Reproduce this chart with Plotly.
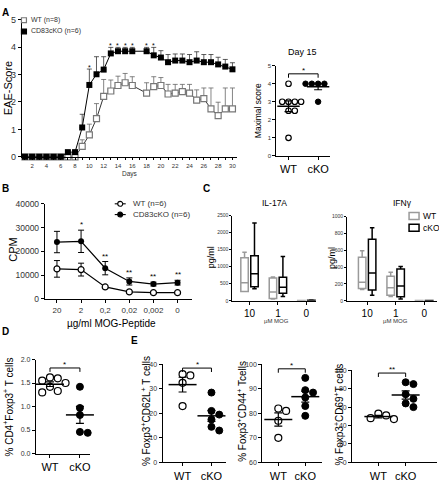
import numpy as np
import plotly.graph_objects as go

W, H = 439, 484
FONT = "Arial, Liberation Sans, sans-serif"

# ---------------- DATA ----------------
# Panel A: EAE score over time (no day 17 measurement)
days = list(range(1, 17)) + list(range(18, 31))
wt_score = [0, 0, 0, 0, 0, 0, 0, 0, 0.38, 0.80, 1.39, 2.20, 2.40, 2.60, 2.70, 2.60,
            2.32, 2.56, 2.60, 2.29, 2.32, 2.38, 2.32, 2.07, 2.12, 1.75, 1.50, 1.75, 1.75]
wt_sem = [0, 0, 0, 0, 0, 0, 0, 0, 0.24, 0.39, 0.55, 0.62, 0.40, 0.34, 0.34, 0.32,
          0.38, 0.36, 0.29, 0.35, 0.32, 0.26, 0.32, 0.37, 0.39, 0.76, 0.49, 0.76, 0.76]
cko_score = [0, 0, 0, 0, 0, 0, 0.17, 0.17, 1.07, 2.62, 3.01, 3.18, 3.77, 3.85, 3.85, 3.85,
             3.85, 3.70, 3.62, 3.45, 3.51, 3.51, 3.45, 3.51, 3.45, 3.45, 3.37, 3.29, 3.19]
cko_sem = [0, 0, 0, 0, 0, 0, 0.06, 0.06, 0.48, 0.58, 0.64, 0.47, 0.22, 0.14, 0.14, 0.14,
           0.14, 0.29, 0.25, 0.28, 0.24, 0.24, 0.28, 0.32, 0.28, 0.28, 0.26, 0.26, 0.24]
sig_days = [10, 13, 14, 15, 16, 18, 19]
day_labels = list(range(2, 31, 2))

# Panel A inset: maximal score day 15
max_wt = [4, 3, 3, 3, 3, 2.5, 2.5, 1]
max_cko = [4, 4, 4, 4, 4, 3]

# Panel B: proliferation
doses = ["20", "2", "0,2", "0,02", "0,002", "0"]
wt_cpm = [12600, 12300, 5000, 2900, 2600, 2600]
wt_cpm_sem = [3500, 2700, 700, 300, 200, 200]
cko_cpm = [23900, 24200, 12900, 7300, 6200, 6800]
cko_cpm_sem = [4500, 4700, 2800, 1500, 800, 1000]
cpm_sig = ["", "*", "**", "**", "**", "**"]

# Panel C: cytokines (box stats)
mog = ["10", "1", "0"]
il17_wt_low = [270, 50, 0]
il17_wt_q1 = [275, 70, 2]
il17_wt_med = [530, 260, 5]
il17_wt_q3 = [1260, 670, 8]
il17_wt_high = [1420, 700, 10]
il17_cko_low = [350, 125, 0]
il17_cko_q1 = [410, 220, 5]
il17_cko_med = [790, 400, 10]
il17_cko_q3 = [1320, 690, 15]
il17_cko_high = [2280, 1300, 20]

ifn_wt_low = [135, 50, 0]
ifn_wt_q1 = [145, 66, 1]
ifn_wt_med = [220, 155, 2]
ifn_wt_q3 = [517, 292, 3]
ifn_wt_high = [595, 338, 4]
ifn_cko_low = [66, 20, 0]
ifn_cko_q1 = [128, 47, 1]
ifn_cko_med = [330, 175, 2]
ifn_cko_q3 = [731, 377, 3]
ifn_cko_high = [868, 408, 4]

# Panel D
treg_wt = [1.60, 1.62, 1.55, 1.50, 1.42, 1.33, 1.30]
treg_cko = [1.42, 0.97, 0.82, 0.46, 0.44]

# Panel E
cd62l_wt = [35.5, 36.0, 32.5, 23.0]
cd62l_cko = [28.5, 21.0, 19.5, 17.5, 14.5, 13.0]
cd44_wt = [81, 82, 77, 70]
cd44_cko = [94.5, 89.5, 88.5, 86.5, 83, 79]
cd69_wt = [53, 51, 48, 47]
cd69_cko = [87, 85, 74, 69, 64, 60]

groups = ["WT", "cKO"]

# ---------------- HELPERS ----------------
def xd(a, b):
    return [a / W, b / W]


def yd(top, bottom):
    return [1 - bottom / H, 1 - top / H]


def axis(dom, rng, anchor, **kw):
    d = dict(domain=dom, range=rng, anchor=anchor, showline=True, linecolor="black",
             linewidth=1.2, ticks="outside", ticklen=3, tickwidth=1, tickcolor="black",
             showgrid=False, zeroline=False,
             tickfont=dict(family=FONT, size=7, color="black"))
    d.update(kw)
    return d


annotations = []
shapes = []


def txt(x, y, s, size, angle=0, bold=False, xanchor="center", yanchor="middle", color="black"):
    if bold:
        s = "<b>" + s + "</b>"
    annotations.append(dict(x=x / W, y=1 - y / H, xref="paper", yref="paper", text=s,
                            showarrow=False, textangle=angle, xanchor=xanchor, yanchor=yanchor,
                            font=dict(family=FONT, size=size, color=color)))


def swarm(vals, ppu_y, ppu_x, d):
    idx = sorted(range(len(vals)), key=lambda i: -vals[i])
    placed = []
    off = [0.0] * len(vals)
    step = 0.5 * d
    for i in idx:
        y = vals[i] * ppu_y
        cand = 0.0
        for k in range(60):
            cand = 0.0 if k == 0 else ((k + 1) // 2) * step * (1 if k % 2 == 1 else -1)
            if all((cand - px) ** 2 + (y - py) ** 2 >= (0.92 * d) ** 2 for px, py in placed):
                break
        placed.append((cand, y))
        off[i] = cand / ppu_x
    return off


fig = go.Figure()

# ---------------- PANEL A ----------------
A_dom_x, A_dom_y = (22, 238), (15, 155)
fig.add_trace(go.Scatter(
    x=days, y=wt_score, mode="lines+markers", cliponaxis=False,
    line=dict(color="#333333", width=1),
    marker=dict(symbol="square", size=6, color="white", line=dict(color="#777777", width=1.2)),
    error_y=dict(type="data", symmetric=False, array=wt_sem, arrayminus=[0] * len(days),
                 color="#666666", thickness=0.8, width=2.5),
    xaxis="x", yaxis="y", showlegend=False))
fig.add_trace(go.Scatter(
    x=days, y=cko_score, mode="lines+markers", cliponaxis=False,
    line=dict(color="black", width=1),
    marker=dict(symbol="square", size=6, color="black"),
    error_y=dict(type="data", symmetric=False, array=cko_sem, arrayminus=[0] * len(days),
                 color="#333333", thickness=0.8, width=2.5),
    xaxis="x", yaxis="y", showlegend=False))
for d in sig_days:
    i = days.index(d)
    annotations.append(dict(x=d, y=cko_score[i] + cko_sem[i], xref="x", yref="y", text="*",
                            showarrow=False, yanchor="bottom", yshift=-4,
                            font=dict(family=FONT, size=7, color="black")))


def dot_panel(xa, ya, wt, cko, dom_x, rng_x, dom_y, rng_y, msize, meanw, bracket, star,
              drop_px=4):
    ppu_x = (dom_x[1] - dom_x[0]) / (rng_x[1] - rng_x[0])
    ppu_y = (dom_y[1] - dom_y[0]) / (rng_y[1] - rng_y[0])
    for gi, vals in enumerate([wt, cko]):
        off = swarm(vals, ppu_y, ppu_x, msize + 0.8)
        xs = [gi + o for o in off]
        if gi == 0:
            mk = dict(symbol="circle", size=msize, color="white", line=dict(color="black", width=1.2))
        else:
            mk = dict(symbol="circle", size=msize, color="black", line=dict(color="black", width=1))
        fig.add_trace(go.Scatter(x=xs, y=vals, mode="markers", marker=mk, cliponaxis=False,
                                 xaxis=xa, yaxis=ya, showlegend=False))
        m = float(np.mean(vals))
        s = float(np.std(vals, ddof=1) / np.sqrt(len(vals)))
        fig.add_trace(go.Scatter(
            x=[gi], y=[m], mode="markers", cliponaxis=False,
            marker=dict(symbol="line-ew", size=meanw, line=dict(color="black", width=1.5)),
            error_y=dict(type="data", array=[s], color="black", thickness=1.2, width=4),
            xaxis=xa, yaxis=ya, showlegend=False))
    dd = drop_px / ppu_y
    fig.add_trace(go.Scatter(x=[0, 0, 1, 1], y=[bracket - dd, bracket, bracket, bracket - dd],
                             mode="lines", line=dict(color="black", width=1), cliponaxis=False,
                             xaxis=xa, yaxis=ya, showlegend=False, hoverinfo="skip"))
    annotations.append(dict(x=0.5, y=bracket, xref=xa, yref=ya, text=star, showarrow=False,
                            yanchor="bottom", yshift=-3,
                            font=dict(family=FONT, size=8, color="black")))


# Inset
In_dom_x, In_dom_y = (277, 331), (62, 154)
In_rx, In_ry = [-0.41, 1.41], [0, 5]
dot_panel("x2", "y2", max_wt, max_cko, In_dom_x, In_rx, (0, In_dom_y[1] - In_dom_y[0]), In_ry,
          5.5, 16, 4.55, "*")

# ---------------- PANEL B ----------------
fig.add_trace(go.Scatter(
    x=doses, y=wt_cpm, mode="lines+markers", cliponaxis=False,
    line=dict(color="black", width=1.2),
    marker=dict(symbol="circle", size=6, color="white", line=dict(color="black", width=1.2)),
    error_y=dict(type="data", array=wt_cpm_sem, color="black", thickness=1, width=3),
    xaxis="x3", yaxis="y3", showlegend=False))
fig.add_trace(go.Scatter(
    x=doses, y=cko_cpm, mode="lines+markers", cliponaxis=False,
    line=dict(color="black", width=1.2),
    marker=dict(symbol="circle", size=6, color="black"),
    error_y=dict(type="data", array=cko_cpm_sem, color="black", thickness=1, width=3),
    xaxis="x3", yaxis="y3", showlegend=False))
for i, (v, s, t) in enumerate(zip(cko_cpm, cko_cpm_sem, cpm_sig)):
    if t:
        annotations.append(dict(x=i, y=v + s, xref="x3", yref="y3", text=t, showarrow=False,
                                yanchor="bottom", yshift=-1,
                                font=dict(family=FONT, size=8, color="black")))

# ---------------- PANEL C ----------------
def boxes(xa, ya, low, q1, med, q3, high, color, name):
    fig.add_trace(go.Box(x=mog, lowerfence=low, q1=q1, median=med, q3=q3, upperfence=high,
                         name=name, offsetgroup=name, line=dict(color=color, width=1.5),
                         fillcolor="white", whiskerwidth=0.6, xaxis=xa, yaxis=ya,
                         showlegend=False))


boxes("x4", "y4", il17_wt_low, il17_wt_q1, il17_wt_med, il17_wt_q3, il17_wt_high, "#9a9a9a", "WT")
boxes("x4", "y4", il17_cko_low, il17_cko_q1, il17_cko_med, il17_cko_q3, il17_cko_high, "black", "cKO")
boxes("x5", "y5", ifn_wt_low, ifn_wt_q1, ifn_wt_med, ifn_wt_q3, ifn_wt_high, "#9a9a9a", "WT")
boxes("x5", "y5", ifn_cko_low, ifn_cko_q1, ifn_cko_med, ifn_cko_q3, ifn_cko_high, "black", "cKO")

# ---------------- PANEL D / E ----------------
D_dom_x, D_dom_y = (36, 90), (362, 458)
dot_panel("x6", "y6", treg_wt, treg_cko, D_dom_x, [-0.47, 1.33], (0, 96), [0, 2], 7, 20, 1.82, "*")
E1_dom_x, E1_dom_y = (163, 227), (367, 467)
dot_panel("x7", "y7", cd62l_wt, cd62l_cko, E1_dom_x, [-0.69, 1.52], (0, 100), [0, 40], 7, 20, 38.5, "*")
E2_dom_x, E2_dom_y = (263, 323), (367, 467)
dot_panel("x8", "y8", cd44_wt, cd44_cko, E2_dom_x, [-0.59, 1.63], (0, 100), [60, 100], 7, 20, 98.2, "*")
E3_dom_x, E3_dom_y = (353, 438), (373, 467)
dot_panel("x9", "y9", cd69_wt, cd69_cko, E3_dom_x, [-0.96, 2.15], (0, 94), [0, 100], 7, 20, 97, "**")

# ---------------- LAYOUT ----------------
grp_ticks = dict(tickvals=[0, 1], ticktext=groups, tickfont=dict(family=FONT, size=11, color="black"))

layout = dict(
    width=W, height=H, margin=dict(l=0, r=0, t=0, b=0),
    paper_bgcolor="white", plot_bgcolor="white", showlegend=False,
    boxmode="group", boxgap=0.3, boxgroupgap=0.25,
    font=dict(family=FONT, color="black"),
    xaxis=axis(xd(*A_dom_x), [0.58, 30.7], "y", tickvals=day_labels,
               ticktext=[str(d) for d in day_labels], ticklen=2.5,
               minor=dict(ticks="outside", tick0=1, dtick=2, ticklen=2.5, tickwidth=1,
                          tickcolor="black", showgrid=False),
               tickfont=dict(family=FONT, size=6, color="#333")),
    yaxis=axis(yd(*A_dom_y), [0, 5], "x", dtick=1, tickfont=dict(family=FONT, size=9, color="#333")),
    xaxis2=axis(xd(*In_dom_x), In_rx, "y2", **grp_ticks),
    yaxis2=axis(yd(*In_dom_y), In_ry, "x2", dtick=1, tickfont=dict(family=FONT, size=6, color="#333")),
    xaxis3=axis(xd(45, 192), [-0.5, 5.58], "y3", type="category", categoryarray=doses,
                tickfont=dict(family=FONT, size=8, color="#333")),
    yaxis3=axis(yd(203, 300), [0, 40000], "x3", dtick=10000, tickformat="d",
                tickfont=dict(family=FONT, size=8.5, color="#333")),
    xaxis4=axis(xd(233, 317), [-0.6, 2.35], "y4", type="category", categoryarray=mog,
                tickfont=dict(family=FONT, size=10, color="black")),
    yaxis4=axis(yd(215, 302), [0, 2500], "x4", dtick=500, ticklen=2,
                tickfont=dict(family=FONT, size=5, color="#333")),
    xaxis5=axis(xd(348, 438), [-0.7, 2.45], "y5", type="category", categoryarray=mog,
                tickfont=dict(family=FONT, size=10, color="black")),
    yaxis5=axis(yd(216, 302), [0, 1000], "x5", dtick=200, ticklen=2,
                tickfont=dict(family=FONT, size=5, color="#333")),
    xaxis6=axis(xd(*D_dom_x), [-0.47, 1.33], "y6", **grp_ticks),
    yaxis6=axis(yd(*D_dom_y), [0, 2], "x6", dtick=0.5, tickformat=".1f",
                tickfont=dict(family=FONT, size=7, color="#333")),
    xaxis7=axis(xd(*E1_dom_x), [-0.69, 1.52], "y7", **grp_ticks),
    yaxis7=axis(yd(*E1_dom_y), [0, 40], "x7", dtick=10, tickfont=dict(family=FONT, size=7, color="#333")),
    xaxis8=axis(xd(*E2_dom_x), [-0.59, 1.63], "y8", **grp_ticks),
    yaxis8=axis(yd(*E2_dom_y), [60, 100], "x8", dtick=10, tickfont=dict(family=FONT, size=7, color="#333")),
    xaxis9=axis(xd(*E3_dom_x), [-0.96, 2.15], "y9", **grp_ticks),
    yaxis9=axis(yd(*E3_dom_y), [0, 100], "x9", dtick=20, tickfont=dict(family=FONT, size=7, color="#333")),
)

# ---------------- TEXT ----------------
txt(6, 8, "A", 10, bold=True)
txt(8, 85, "EAE-Score", 11, angle=-90)
txt(130, 173, "Days", 6.5, color="#333")
txt(303, 48, "Day 15", 9)
txt(258, 108, "Maximal score", 8.5, angle=-90)

txt(6, 187, "B", 10, bold=True)
txt(13, 250, "CPM", 11, angle=-90)
txt(112, 325, "µg/ml MOG-Peptide", 10)

txt(207, 187, "C", 10, bold=True)
txt(275, 202, "IL-17A", 8.5)
txt(403, 202, "IFNγ", 8.5)
txt(211, 258, "pg/ml", 9, angle=-90)
txt(332, 258, "pg/ml", 9, angle=-90)
txt(277, 323, "µM MOG", 6, color="#333")
txt(396, 323, "µM MOG", 6, color="#333")

txt(6, 333, "D", 10, bold=True)
txt(8, 410, "% CD4<sup>+</sup>Foxp3<sup>+</sup> T cells", 10, angle=-90)
txt(135, 343, "E", 10, bold=True)
txt(147, 415, "% Foxp3<sup>+</sup>CD62L<sup>+</sup> T cells", 10, angle=-90)
txt(243, 415, "% Foxp3<sup>+</sup>CD44<sup>+</sup> Tcells", 10, angle=-90)
txt(340, 418, "% Foxp3<sup>+</sup>CD69<sup>+</sup>T cells", 10, angle=-90)

# ---------------- MANUAL LEGENDS ----------------
def px_rect(x0, y0, x1, y1, line, fill, lw=1.2):
    shapes.append(dict(type="rect", xref="paper", yref="paper", x0=x0 / W, x1=x1 / W,
                       y0=1 - y1 / H, y1=1 - y0 / H, line=dict(color=line, width=lw),
                       fillcolor=fill, layer="above"))


def px_circle(cx, cy, r, line, fill):
    shapes.append(dict(type="circle", xref="paper", yref="paper", x0=(cx - r) / W, x1=(cx + r) / W,
                       y0=1 - (cy + r) / H, y1=1 - (cy - r) / H, line=dict(color=line, width=1.1),
                       fillcolor=fill, layer="above"))


def px_line(x0, y0, x1, y1, color="black", w=1.1):
    shapes.append(dict(type="line", xref="paper", yref="paper", x0=x0 / W, x1=x1 / W,
                       y0=1 - y0 / H, y1=1 - y1 / H, line=dict(color=color, width=w), layer="above"))


# A legend
px_rect(21.5, 13, 26.5, 18, "#777777", "white")
txt(29, 15.5, "WT (n=8)", 7, xanchor="left", color="#333")
px_rect(21.5, 24.5, 26.5, 29.5, "black", "black")
txt(29, 27, "CD83cKO (n=6)", 7, xanchor="left", color="#333")

# B legend
px_line(115, 203, 126, 203)
px_circle(120.5, 203, 2.5, "black", "white")
txt(131, 203, "WT (n=6)", 8, xanchor="left", color="#333")
px_line(115, 214, 126, 214)
px_circle(120.5, 214, 2.5, "black", "black")
txt(131, 214, "CD83cKO (n=6)", 8, xanchor="left", color="#333")

# C legend
px_rect(410, 212, 420, 219, "#9a9a9a", "white", 1.5)
txt(422, 215.5, "WT", 8.5, xanchor="left")
px_rect(410, 224, 420, 231, "black", "white", 1.5)
txt(422, 227.5, "cKO", 8.5, xanchor="left")

layout["annotations"] = annotations
layout["shapes"] = shapes
fig.update_layout(**layout)
fig.write_html("out.html")
